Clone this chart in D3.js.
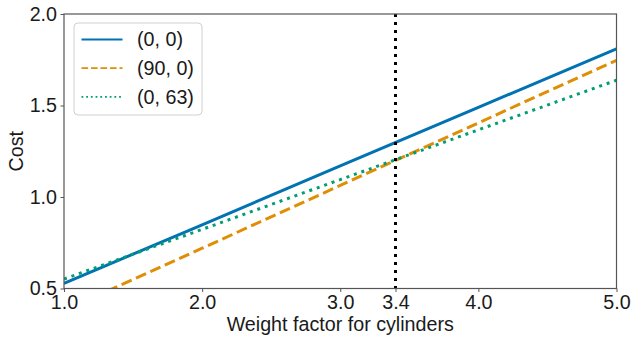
<html>
<head>
<script src="https://d3js.org/d3.v7.min.js"></script>
<style>
  body { margin: 0; background: white; }
  text { font-family: "Liberation Sans", Arial, sans-serif; fill: #1a1a1a; }
</style>
</head>
<body>
<svg id="chart" width="632" height="339"></svg>
<script>
// values
const weights = [1, 2, 3, 4, 5];
const cost00 = [0.528, 0.848, 1.17, 1.49, 1.81];
const cost900 = [0.379, 0.72, 1.063, 1.405, 1.747];
const cost063 = [0.552, 0.823, 1.095, 1.367, 1.638];
const seriesNames = ["(0, 0)", "(90, 0)", "(0, 63)"];
const xTicks = [1.0, 2.0, 3.0, 3.4, 4.0, 5.0];
const yTicks = [0.5, 1.0, 1.5, 2.0];
const markerX = 3.4;

const svg = d3.select("#chart");
const margin = { top: 14, right: 15.5, bottom: 50.5, left: 64 };
const width = 632 - margin.left - margin.right;
const height = 339 - margin.top - margin.bottom;
const fontSize = "19.7px";

const x = d3.scaleLinear().domain([1, 5]).range([0, width]);
const y = d3.scaleLinear().domain([0.5, 2.0]).range([height, 0]);

const g = svg.append("g").attr("transform", `translate(${margin.left},${margin.top})`);

g.append("clipPath").attr("id", "clip")
  .append("rect").attr("width", width).attr("height", height);

const styles = [
  { color: "#0173b2", dash: null, legendDash: null },
  { color: "#de8f05", dash: "11,4.8", legendDash: "6.6,2.9" },
  { color: "#029e73", dash: "3,4.9", legendDash: "1.8,2.9" }
];
const allSeries = [cost00, cost900, cost063];

const line = d3.line()
  .x((d, i) => x(weights[i]))
  .y(d => y(d));

const plot = g.append("g").attr("clip-path", "url(#clip)");

allSeries.forEach((vals, i) => {
  plot.append("path").datum(vals)
    .attr("d", line)
    .attr("fill", "none")
    .attr("stroke", styles[i].color)
    .attr("stroke-width", 3)
    .attr("stroke-dasharray", styles[i].dash);
});

plot.append("line")
  .attr("x1", x(markerX)).attr("x2", x(markerX))
  .attr("y1", 0).attr("y2", height)
  .attr("stroke", "black")
  .attr("stroke-width", 3)
  .attr("stroke-dasharray", "3,5");

// axes
const xAxis = g.append("g").attr("transform", `translate(0,${height})`)
  .call(d3.axisBottom(x).tickValues(xTicks).tickFormat(d3.format(".1f")).tickSize(3.5).tickPadding(3.5));
const yAxis = g.append("g")
  .call(d3.axisLeft(y).tickValues(yTicks).tickFormat(d3.format(".1f")).tickSize(3.5).tickPadding(3.5));

[xAxis, yAxis].forEach(a => {
  a.select(".domain").remove();
  a.selectAll("line").attr("stroke", "#555").attr("stroke-width", 1);
  a.selectAll("text").style("font-size", fontSize).attr("fill", "#1a1a1a");
});

g.append("rect")
  .attr("width", width).attr("height", height)
  .attr("fill", "none").attr("stroke", "#555").attr("stroke-width", 1.2);

g.append("text")
  .attr("x", width / 2).attr("y", height + 42)
  .attr("text-anchor", "middle")
  .style("font-size", fontSize)
  .text("Weight factor for cylinders");

g.append("text")
  .attr("transform", `translate(${-41.5},${height / 2}) rotate(-90)`)
  .attr("text-anchor", "middle")
  .style("font-size", fontSize)
  .text("Cost");

// legend
const legend = g.append("g").attr("transform", "translate(10,9)");
legend.append("rect")
  .attr("width", 128).attr("height", 92)
  .attr("rx", 4)
  .attr("fill", "white").attr("fill-opacity", 0.8)
  .attr("stroke", "#d0d0d0");

seriesNames.forEach((name, i) => {
  const row = legend.append("g").attr("transform", `translate(0,${16.5 + i * 28.7})`);
  row.append("line")
    .attr("x1", 7.5).attr("x2", 48.5)
    .attr("stroke", styles[i].color)
    .attr("stroke-width", 1.8)
    .attr("stroke-dasharray", styles[i].legendDash);
  row.append("text")
    .attr("x", 63).attr("dy", "0.35em")
    .style("font-size", fontSize)
    .text(name);
});
</script>
</body>
</html>
